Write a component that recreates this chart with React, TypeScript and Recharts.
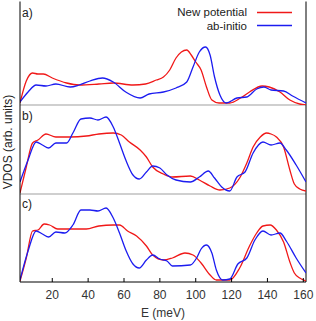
import { LineChart, Line, XAxis, YAxis, ReferenceLine } from 'recharts';

// energy axis (meV)
const eMin = 2;
const eMax = 161.5;
const eTicks = [20, 40, 60, 80, 100, 120, 140, 160];

// [E, VDOS], arbitrary units
const aNew = [[2, 2], [5.5, 24], [9, 32], [12, 31], [15, 31], [20, 27], [28, 22], [35, 20], [46, 21], [54, 22], [65, 20], [72, 21], [78, 25], [82, 28], [85.5, 35], [89, 47], [92, 53], [95, 55], [97.5, 50], [100, 43], [103, 35], [106, 18], [109, 5], [113, 2], [119, 2], [125, 7], [130, 13], [137, 19], [141, 18], [147, 13], [152.5, 5], [158, 1], [161.5, 0]];
const aAb = [[2, 3], [6.5, 13], [11, 20], [16.5, 19], [22, 21], [30, 18], [35, 20], [41, 24], [48, 27], [54, 23], [61, 13], [69, 7], [74, 11], [82, 13], [89, 17], [95, 23], [98.5, 38], [102, 53], [105.5, 58], [108, 50], [110.5, 28], [113.5, 10], [117, 2], [123, 7], [128.5, 8], [134, 16], [138, 18], [142, 15], [149, 14], [154, 9], [161.5, 2]];

const bNew = [[2, 1], [5.5, 27], [9, 51], [12, 54], [16.5, 60], [22, 57], [30, 57], [39, 58], [46, 60], [54, 61], [58.5, 59], [63, 52], [69, 44], [72.5, 37], [76, 27], [82, 20], [87, 17], [97, 18], [102, 14], [108, 8], [113.5, 4], [119, 6], [124.5, 16], [128.5, 31], [132, 47], [136, 57], [139.5, 61], [142, 60], [145, 57], [149, 47], [152.5, 24], [155, 10], [158, 5], [161.5, 3]];
const bAb = [[2, 12], [6.5, 34], [11, 52], [14.5, 49], [18, 46], [22, 51], [28, 51], [31.5, 61], [36, 75], [41, 76], [45.5, 74], [50, 77], [54, 67], [57.5, 51], [61, 34], [65, 19], [68.5, 15], [72.5, 22], [76, 28], [80, 26], [84, 19], [89, 14], [97, 12], [102, 17], [107, 23], [110.5, 16], [114.5, 7], [119, 3], [123, 17], [127.5, 22], [132, 41], [137.5, 52], [142, 49], [147, 51], [150.5, 44], [156, 29], [161.5, 12]];

const cNew = [[2, 1], [5.5, 24], [9, 51], [12, 52], [15.5, 58], [18.5, 57], [23, 53], [30, 53], [39, 53], [46, 56], [54, 57], [57.5, 57], [62, 51], [67, 46], [72.5, 36], [76, 27], [82, 22], [87, 24], [94, 29], [98.5, 27], [103, 19], [108, 7], [111.5, 2], [119, 2], [124.5, 14], [130, 36], [134, 49], [137.5, 56], [141.5, 57], [145, 52], [149, 40], [152.5, 20], [155, 9], [158, 4], [161.5, 1]];
const cAb = [[2, 2], [6.5, 31], [11, 51], [14.5, 48], [18, 45], [22, 50], [27, 49], [31.5, 57], [36, 72], [41, 72], [45.5, 71], [50, 74], [54, 64], [57.5, 49], [61, 32], [65, 18], [68.5, 14], [72.5, 22], [76, 27], [80, 23], [84, 21], [87, 16], [97, 17], [100.5, 24], [103, 33], [106, 37], [109, 29], [111.5, 12], [115, 2], [119, 3], [123.5, 18], [128.5, 24], [133, 42], [137.5, 51], [142, 47], [147, 49], [150.5, 41], [156, 24], [161.5, 9]];

const W = 316;
const H = 321;
const FONT = '"Liberation Sans", Arial, sans-serif';
const RED = '#f01818';
const BLUE = '#1c1cf0';
const SEP = '#a0a0a0';

const pts = (p: number[][]) => p.map(([e, v]) => ({ e, v }));

const txt = { fontFamily: FONT, fontSize: 12, fill: '#222' };
const legTxt = { fontFamily: FONT, fontSize: 11.5, fill: '#222' };

const Legend = () => (
  <g>
    <text x={22} y={17} {...txt}>a)</text>
    <text x={247} y={16} textAnchor="end" {...legTxt}>New potential</text>
    <line x1={257} x2={292} y1={12.5} y2={12.5} stroke={RED} strokeWidth={1.4} />
    <text x={247} y={29.5} textAnchor="end" {...legTxt}>ab-initio</text>
    <line x1={257} x2={292} y1={25.5} y2={25.5} stroke={BLUE} strokeWidth={1.4} />
  </g>
);

type PanelProps = {
  top: number;
  bottom: number;
  red: number[][];
  blue: number[][];
  tag: string;
  tagY: number;
  kind: 'a' | 'b' | 'c';
};

function Panel({ top, bottom, red, blue, tag, tagY, kind }: PanelProps) {
  const isLast = kind === 'c';
  return (
    <LineChart
      width={W}
      height={H}
      margin={{ top, right: 10, bottom: isLast ? 0 : H - bottom, left: 0 }}
      style={{ position: 'absolute', left: 0, top: 0 }}
    >
      {kind === 'a' && (
        <XAxis
          dataKey="e"
          type="number"
          orientation="top"
          domain={[eMin, eMax]}
          allowDataOverflow
          ticks={eTicks}
          height={0}
          tick={false}
          tickSize={-4}
          axisLine={{ stroke: '#000' }}
          tickLine={{ stroke: '#000' }}
        />
      )}
      {kind === 'b' && (
        <XAxis dataKey="e" type="number" domain={[eMin, eMax]} allowDataOverflow hide />
      )}
      {isLast && (
        <XAxis
          dataKey="e"
          type="number"
          domain={[eMin, eMax]}
          allowDataOverflow
          ticks={eTicks}
          height={H - bottom}
          tickSize={-4}
          tickMargin={12}
          tick={{ fontFamily: FONT, fontSize: 12, fill: '#333' }}
          axisLine={{ stroke: '#000' }}
          tickLine={{ stroke: '#000' }}
          label={{ value: 'E (meV)', position: 'insideBottom', offset: 4, fontFamily: FONT, fontSize: 12, fill: '#333' }}
        />
      )}
      <YAxis
        width={20}
        domain={[0, bottom - top]}
        allowDataOverflow
        tick={false}
        tickLine={false}
        axisLine={{ stroke: '#000' }}
        label={
          kind === 'b'
            ? () => (
                <text x={0} y={0} transform="translate(12,142) rotate(-90)" textAnchor="middle" {...txt}>
                  VDOS (arb. units)
                </text>
              )
            : undefined
        }
      />
      {!isLast && <ReferenceLine y={0} stroke={SEP} strokeWidth={1.2} />}
      <ReferenceLine
        x={eMax}
        stroke="#000"
        label={() =>
          kind === 'a' ? (
            <Legend />
          ) : (
            <text x={22} y={tagY} {...txt}>
              {tag}
            </text>
          )
        }
      />
      <Line data={pts(red)} dataKey="v" type="monotone" stroke={RED} strokeWidth={1.3} dot={false} isAnimationActive={false} />
      <Line data={pts(blue)} dataKey="v" type="monotone" stroke={BLUE} strokeWidth={1.3} dot={false} isAnimationActive={false} />
    </LineChart>
  );
}

export default function App() {
  return (
    <div style={{ position: 'absolute', left: 0, top: 0, width: W, height: H, background: '#fff' }}>
      <Panel kind="a" top={1.5} bottom={105} red={aNew} blue={aAb} tag="a)" tagY={17} />
      <Panel kind="b" top={105} bottom={194} red={bNew} blue={bAb} tag="b)" tagY={120} />
      <Panel kind="c" top={194} bottom={282} red={cNew} blue={cAb} tag="c)" tagY={208} />
    </div>
  );
}
